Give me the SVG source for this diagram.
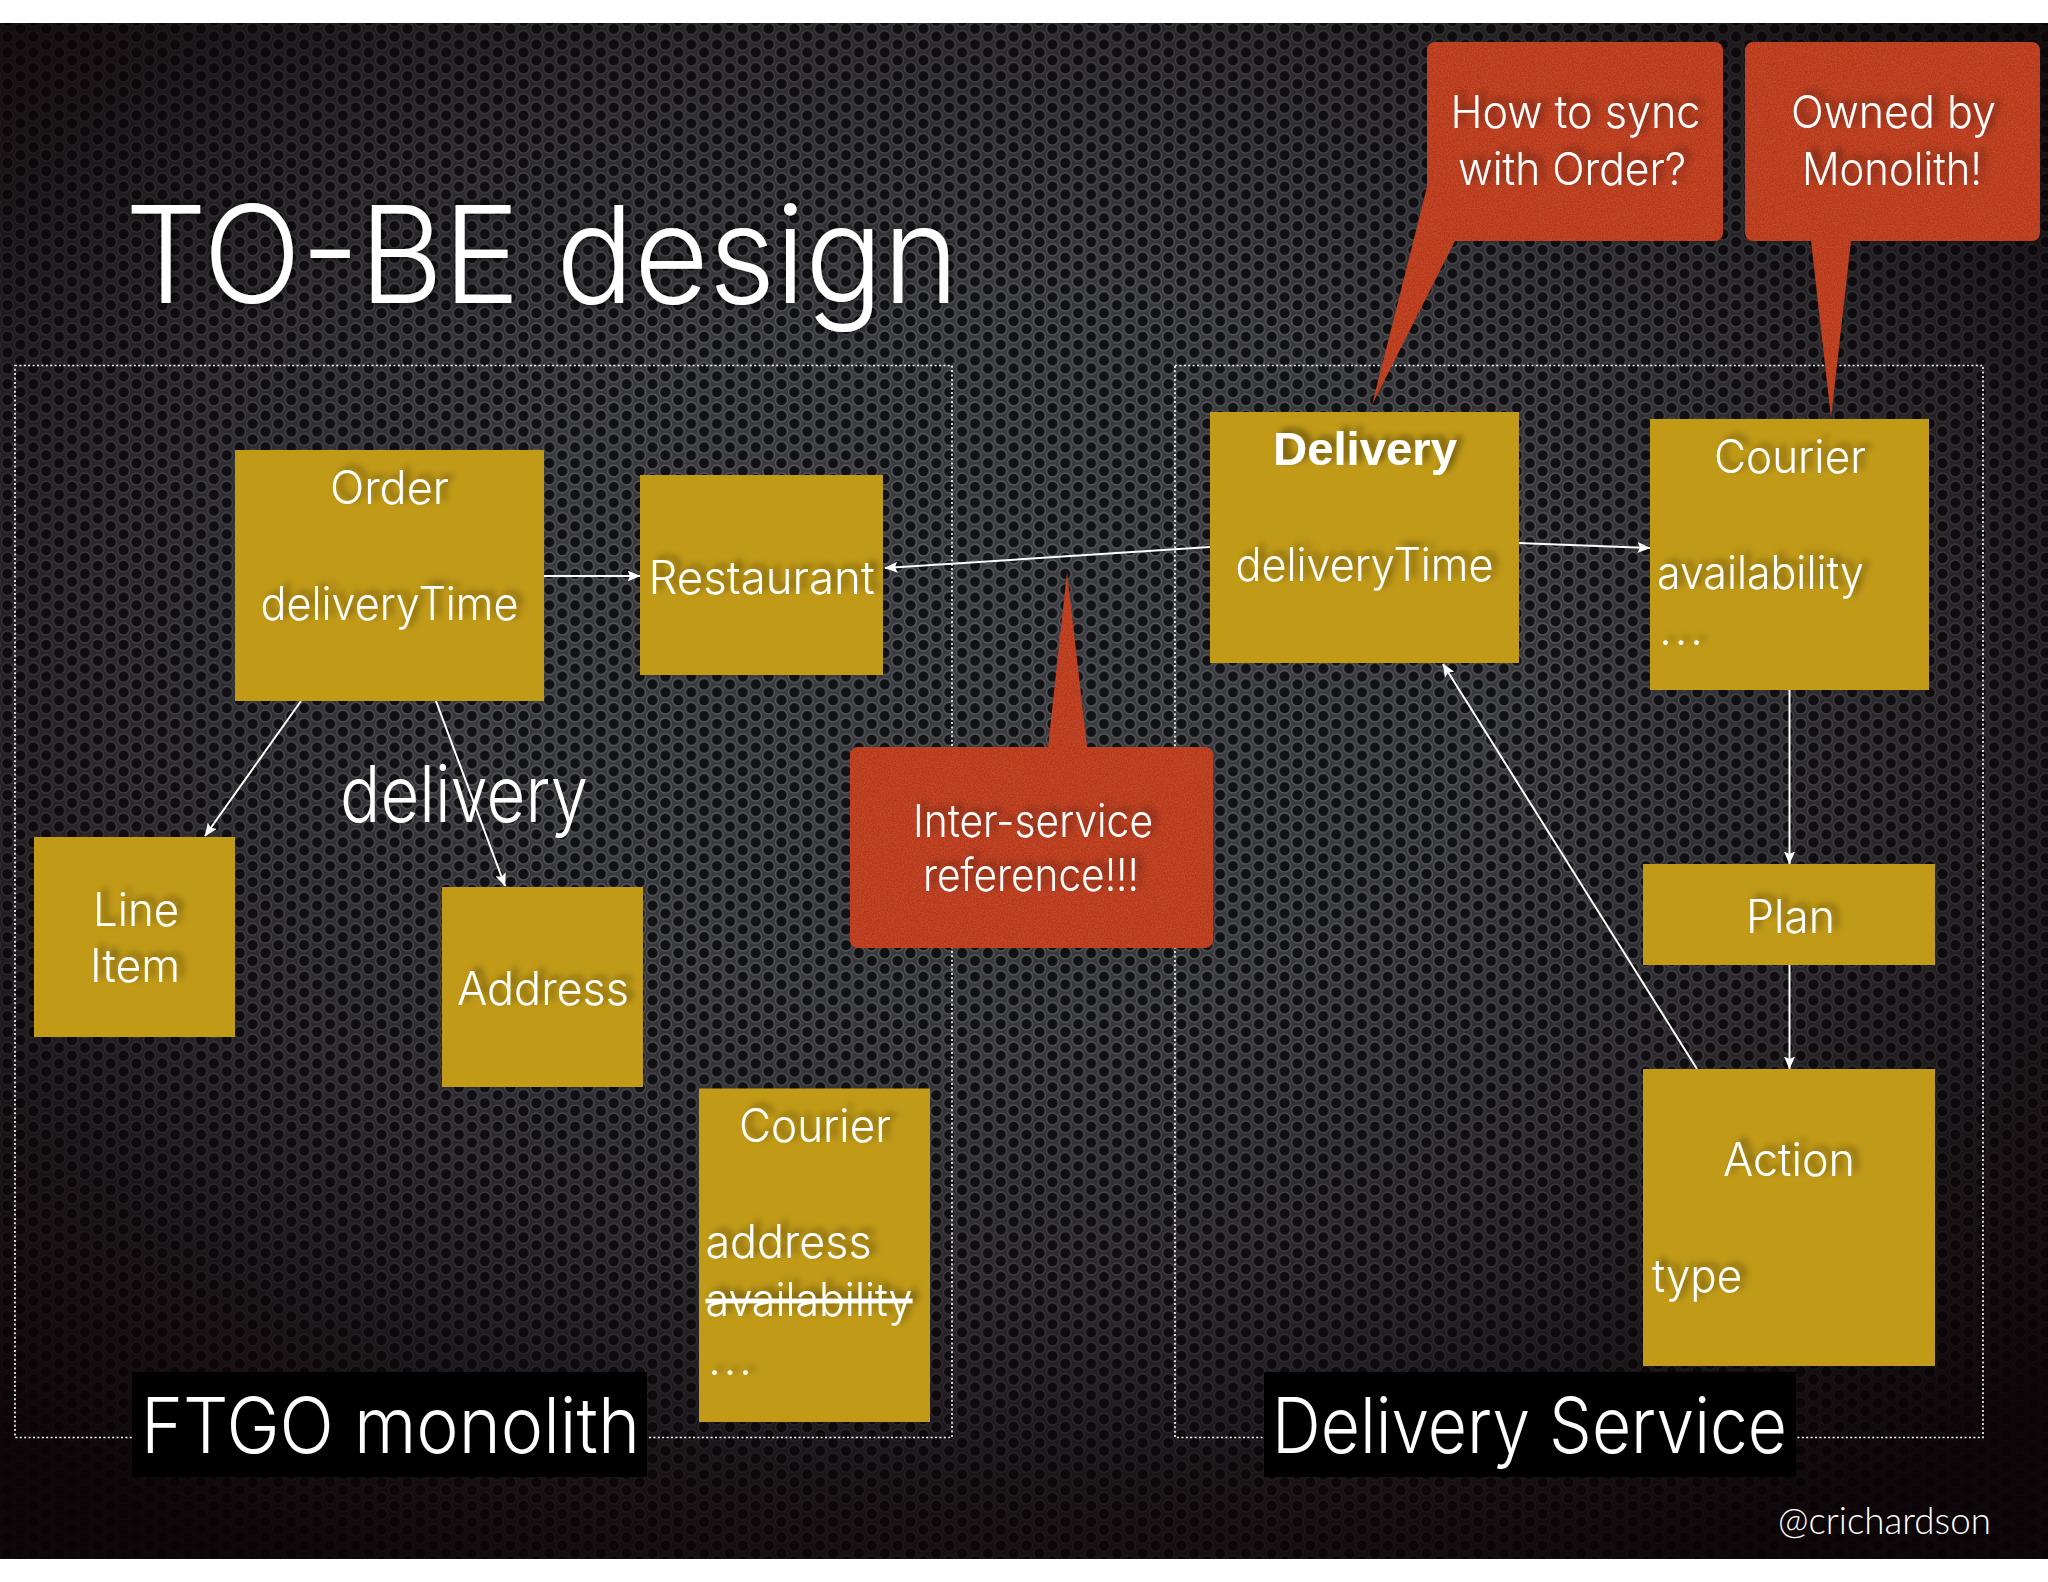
<svg xmlns="http://www.w3.org/2000/svg" width="2048" height="1582" viewBox="0 0 2048 1582">
<style>
text{font-family:Inter,"Liberation Sans",sans-serif;font-weight:300;fill:#fff}
.n{font-size:46px;filter:url(#ts)}
.c{font-size:45px;filter:url(#ts)}
.l{font-size:77px}
.box{fill:#c19a17}
.call{fill:#b9371f;filter:url(#noise)}
.dot{fill:none;stroke:#fff;stroke-width:1.6;stroke-dasharray:2 2.4}
.a{stroke:#fff;stroke-width:2;fill:none;marker-end:url(#ah)}
</style>
<defs>
<marker id="ah" markerUnits="userSpaceOnUse" viewBox="0 0 13 11" refX="12.5" refY="5.5" markerWidth="13" markerHeight="11" orient="auto"><path d="M0 0L13 5.5L0 11L2.5 5.5Z" fill="#fff"/></marker>
<pattern id="mesh" patternUnits="userSpaceOnUse" x="955.65" y="601.45" width="25.8" height="15.8">
<rect width="25.8" height="15.8" fill="#3a3b3f"/>
<circle cx="6.45" cy="3.95" r="6.6" fill="#5a5b60"/><circle cx="6.45" cy="3.95" r="5.2" fill="#111216"/>
<circle cx="19.35" cy="11.85" r="6.6" fill="#5a5b60"/><circle cx="19.35" cy="11.85" r="5.2" fill="#111216"/>
<circle cx="6.45" cy="19.75" r="6.6" fill="#5a5b60"/><circle cx="6.45" cy="19.75" r="5.2" fill="#111216"/>
<circle cx="19.35" cy="-3.95" r="6.6" fill="#5a5b60"/><circle cx="19.35" cy="-3.95" r="5.2" fill="#111216"/>
<circle cx="-6.45" cy="11.85" r="6.6" fill="#5a5b60"/><circle cx="-6.45" cy="11.85" r="5.2" fill="#111216"/>
<circle cx="32.25" cy="3.95" r="6.6" fill="#5a5b60"/><circle cx="32.25" cy="3.95" r="5.2" fill="#111216"/>
</pattern>
<radialGradient id="vig" gradientUnits="userSpaceOnUse" cx="0" cy="0" r="1" gradientTransform="translate(1000 650) scale(1500 1050)">
<stop offset="0" stop-color="#0b0305" stop-opacity="0"/>
<stop offset=".35" stop-color="#0b0305" stop-opacity=".05"/>
<stop offset=".6" stop-color="#0b0305" stop-opacity=".35"/>
<stop offset=".8" stop-color="#0b0305" stop-opacity=".7"/>
<stop offset="1" stop-color="#0b0305" stop-opacity=".94"/>
</radialGradient>
<filter id="ts" x="-25%" y="-50%" width="150%" height="200%"><feDropShadow dx="6" dy="-4" stdDeviation="3.5" flood-color="#000" flood-opacity=".45"/></filter>
<filter id="ts2" x="-10%" y="-20%" width="120%" height="140%"><feDropShadow dx="0" dy="0" stdDeviation="5" flood-color="#000" flood-opacity=".8"/></filter>
<filter id="noise" x="0" y="0" width="100%" height="100%"><feTurbulence type="fractalNoise" baseFrequency=".7" numOctaves="2" seed="3" result="t"/><feColorMatrix in="t" type="matrix" values="0 0 0 0 .85  0 0 0 0 .3  0 0 0 0 .15  0 0 0 .3 -.1" result="m"/><feComposite in="m" in2="SourceGraphic" operator="in" result="c"/><feMerge><feMergeNode in="SourceGraphic"/><feMergeNode in="c"/></feMerge></filter>
</defs>
<rect width="2048" height="1582" fill="#fff"/>
<rect y="23" width="2048" height="1536" fill="url(#mesh)"/>
<rect y="23" width="2048" height="1536" fill="url(#vig)"/>

<rect class="dot" x="15" y="365.5" width="937" height="1072"/>
<rect class="dot" x="1175" y="365.5" width="808" height="1072"/>

<text id="title" x="125" y="303" font-size="135" textLength="834" lengthAdjust="spacingAndGlyphs" style="filter:url(#ts2)">TO-BE design</text>

<g id="connectors">
<line class="a" x1="544" y1="576" x2="640" y2="576"/>
<line class="a" x1="301" y1="701" x2="205" y2="836"/>
<line class="a" x1="436" y1="701" x2="505" y2="886"/>
<line class="a" x1="1210" y1="547" x2="885" y2="568"/>
<line class="a" x1="1519" y1="543" x2="1650" y2="548"/>
<line class="a" x1="1789.5" y1="690" x2="1789.5" y2="864"/>
<line class="a" x1="1789.5" y1="965" x2="1789.5" y2="1069"/>
<line class="a" x1="1697" y1="1069" x2="1443" y2="664"/>
</g>

<g id="order"><rect class="box" x="235" y="450" width="309" height="251"/>
<text class="n" x="330" y="504" textLength="119" lengthAdjust="spacingAndGlyphs">Order</text>
<text class="n" x="260.5" y="619.5" textLength="258" lengthAdjust="spacingAndGlyphs">deliveryTime</text></g>
<g id="restaurant"><rect class="box" x="640" y="475" width="243" height="200"/>
<text class="n" x="648.5" y="593.5" textLength="226" lengthAdjust="spacingAndGlyphs">Restaurant</text></g>
<g id="line-item"><rect class="box" x="34" y="837" width="201" height="200"/>
<text class="n" x="93" y="925.5" textLength="86" lengthAdjust="spacingAndGlyphs">Line</text>
<text class="n" x="90" y="982" textLength="90" lengthAdjust="spacingAndGlyphs">Item</text></g>
<g id="address"><rect class="box" x="442" y="887" width="201" height="200"/>
<text class="n" x="457" y="1005" textLength="172" lengthAdjust="spacingAndGlyphs">Address</text></g>
<g id="courier-monolith"><rect class="box" x="699" y="1088.5" width="231" height="333.5"/>
<text class="n" x="739" y="1142" textLength="152" lengthAdjust="spacingAndGlyphs">Courier</text>
<text class="n" x="705.5" y="1258" textLength="166" lengthAdjust="spacingAndGlyphs">address</text>
<text class="n" x="705.5" y="1316" textLength="207" lengthAdjust="spacingAndGlyphs" text-decoration="line-through">availability</text>
<text class="n" x="708" y="1375" textLength="44" lengthAdjust="spacing">...</text></g>
<text id="delivery-label" x="340" y="822" font-size="78" textLength="248" lengthAdjust="spacingAndGlyphs">delivery</text>

<g id="delivery"><rect class="box" x="1210" y="412" width="309" height="251"/>
<text class="n" x="1273" y="465" textLength="184" lengthAdjust="spacingAndGlyphs" style="font-family:'Liberation Sans',sans-serif;font-weight:700">Delivery</text>
<text class="n" x="1235.5" y="581" textLength="258" lengthAdjust="spacingAndGlyphs">deliveryTime</text></g>
<g id="courier"><rect class="box" x="1650" y="419" width="279" height="271"/>
<text class="n" x="1714" y="473" textLength="152" lengthAdjust="spacingAndGlyphs">Courier</text>
<text class="n" x="1657" y="589" textLength="207" lengthAdjust="spacingAndGlyphs">availability</text>
<text class="n" x="1659" y="645" textLength="44" lengthAdjust="spacing">...</text></g>
<g id="plan"><rect class="box" x="1643" y="864" width="292" height="101"/>
<text class="n" x="1746" y="932.5" textLength="89" lengthAdjust="spacingAndGlyphs">Plan</text></g>
<g id="action"><rect class="box" x="1643" y="1069" width="292" height="297"/>
<text class="n" x="1723" y="1176" textLength="132" lengthAdjust="spacingAndGlyphs">Action</text>
<text class="n" x="1652" y="1291.5" textLength="90" lengthAdjust="spacingAndGlyphs">type</text></g>

<g id="callout-sync"><path class="call" d="M1435 42H1715a8 8 0 0 1 8 8V233a8 8 0 0 1-8 8H1455L1372 405L1427 187V50a8 8 0 0 1 8-8Z"/>
<text class="c" x="1450.5" y="128" textLength="250" lengthAdjust="spacingAndGlyphs">How to sync</text>
<text class="c" x="1458" y="185" textLength="228" lengthAdjust="spacingAndGlyphs">with Order?</text></g>
<g id="callout-owned"><path class="call" d="M1753 42H2032a8 8 0 0 1 8 8V233a8 8 0 0 1-8 8H1851L1831 418L1811 241H1753a8 8 0 0 1-8-8V50a8 8 0 0 1 8-8Z"/>
<text class="c" x="1791" y="128" textLength="205" lengthAdjust="spacingAndGlyphs">Owned by</text>
<text class="c" x="1802" y="185" textLength="180" lengthAdjust="spacingAndGlyphs">Monolith!</text></g>
<g id="callout-ref"><path class="call" d="M858 747H1048L1067 572L1087 747H1205a8 8 0 0 1 8 8V940a8 8 0 0 1-8 8H858a8 8 0 0 1-8-8V755a8 8 0 0 1 8-8Z"/>
<text class="c" x="913" y="837" textLength="240" lengthAdjust="spacingAndGlyphs">Inter-service</text>
<text class="c" x="923" y="891" textLength="216" lengthAdjust="spacingAndGlyphs">reference!!!</text></g>

<g id="label-ftgo"><rect x="132" y="1372" width="515" height="105" fill="#000"/>
<text class="l" x="141" y="1453" textLength="499" lengthAdjust="spacingAndGlyphs">FTGO monolith</text></g>
<g id="label-delivery"><rect x="1264" y="1372" width="532" height="105" fill="#000"/>
<text class="l" x="1272" y="1453" textLength="515" lengthAdjust="spacingAndGlyphs">Delivery Service</text></g>
<text id="handle" x="1778" y="1533.5" font-size="38" textLength="213" lengthAdjust="spacingAndGlyphs" style="font-family:Lato,'Open Sans',sans-serif">@crichardson</text>
</svg>
